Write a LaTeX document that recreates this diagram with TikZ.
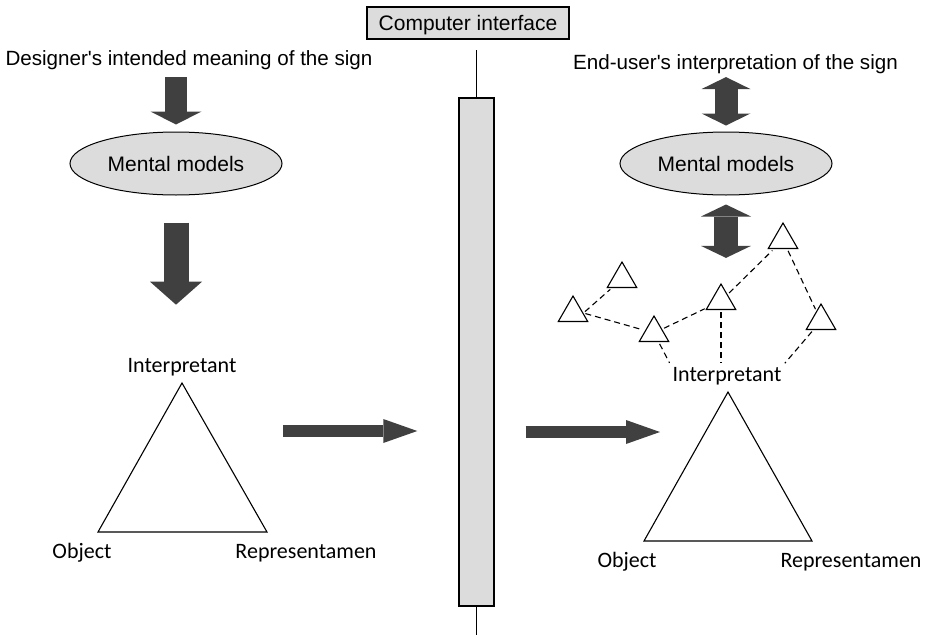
\documentclass[tikz,border=0pt]{standalone}
\usepackage{fontspec}
\newfontfamily\arialfont{Liberation Sans}
\newfontfamily\califont{Carlito}
\usetikzlibrary{arrows.meta,shapes.geometric}
\definecolor{boxgray}{RGB}{220,220,220}
\definecolor{arrowgray}{RGB}{64,64,64}
\tikzset{
  sign/.style={font=\arialfont\fontsize{20.6}{24}\selectfont, inner sep=2pt, anchor=base},
  corner/.style={font=\califont\fontsize{22}{26}\selectfont, inner sep=2pt, anchor=base},
  mental/.style={ellipse, draw, line width=1pt, fill=boxgray, minimum width=212pt, minimum height=63pt, font=\arialfont\fontsize{21}{25}\selectfont},
  smalltri/.style={regular polygon, regular polygon sides=3, draw, line width=1.1pt, minimum size=34pt, inner sep=0pt},
  link/.style={dash pattern=on 6pt off 4pt, line width=1.1pt, shorten <=2pt, shorten >=2pt},
  fat/.style n args={3}{arrowgray, line width=#1, -{Triangle[width=#2, length=#3, line width=0pt]}},
  twoway/.style n args={3}{arrowgray, line width=#1, {Triangle[width=#2, length=#3, line width=0pt]}-{Triangle[width=#2, length=#3, line width=0pt]}}
}
\begin{document}
\begin{tikzpicture}[x=1pt, y=-1pt]
\useasboundingbox (0,0) rectangle (930,635);

\node[draw, line width=1.2pt, fill=boxgray, minimum width=202pt, minimum height=32pt, inner sep=0pt, text depth=0pt, font=\arialfont\fontsize{21}{25}\selectfont] (iface) at (468,23) {Computer interface};
\node[draw, line width=1.4pt, fill=boxgray, minimum width=35pt, minimum height=508pt] (panel) at (476.5,352) {};
\coordinate (ptop) at (476.5,50);
\coordinate (pbot) at (476.5,635);
\draw[line width=1.2pt] (ptop) -- (panel.north);
\draw[line width=1.2pt] (panel.south) -- (pbot);

\node[sign] (dsign) at (189,65) {Designer\textquotesingle s intended meaning of the sign};
\node[mental] (lmental) at (176,163.5) {Mental models};
\node[corner] (linterp) at (182,372) {Interpretant};
\node[corner] (lobj) at (82,558) {Object};
\node[corner] (lrep) at (306,558) {Representamen};
\draw[line width=1.1pt] (182,383) -- (98,532) -- (267,532) -- cycle;
\draw[fat={22pt}{51pt}{13pt}, shorten <=5.7pt, shorten >=7pt] (lmental |- dsign.south) -- (lmental.north);
\draw[fat={25pt}{52pt}{23pt}, shorten <=27pt, shorten >=51pt] (lmental.south) -- (lmental |- linterp.north);

\coordinate (lout) at (283,431);
\coordinate (rin) at (660,432);
\draw[fat={12pt}{24pt}{34pt}, shorten >=41pt] (lout) -- (lout -| panel.west);
\draw[fat={12pt}{24pt}{34pt}, shorten <=31pt] (rin -| panel.east) -- (rin);

\node[sign] (usign) at (735.5,69) {End-user\textquotesingle s interpretation of the sign};
\node[mental] (rmental) at (726,163.5) {Mental models};
\node[corner] (rinterp) at (727,381) {Interpretant};
\node[corner] (robj) at (627,567) {Object};
\node[corner] (rrep) at (851,567) {Representamen};
\draw[line width=1.1pt] (728,392) -- (644,541) -- (812,541) -- cycle;

\node[smalltri] (t1) at (622,279) {};
\node[smalltri] (t2) at (573,313) {};
\node[smalltri] (t3) at (654,333) {};
\node[smalltri] (t4) at (721,301) {};
\node[smalltri] (t5) at (783,240) {};
\node[smalltri] (t6) at (821,321) {};

\draw[twoway={23pt}{49pt}{12pt}, xshift=3.5pt, shorten <=1.6pt, shorten >=6pt] (rmental |- usign.south) -- (rmental.north);
\draw[twoway={24pt}{50pt}{12pt}, xshift=4pt, shorten <=9pt, shorten >=25pt] (rmental.south) -- (rmental.south |- t4.north);

\draw[link] (t2.east) -- (t1);
\draw[link] (t2.east) -- (t3);
\draw[link] (t3) -- (t4);
\draw[link] (t4) -- (t5);
\draw[link] (t5) -- (t6);
\draw[link] (t3) -- (rinterp.north west);
\draw[link] (t4) -- (t4 |- rinterp.north);
\draw[link] (t6) -- (rinterp.north east);
\end{tikzpicture}
\end{document}
